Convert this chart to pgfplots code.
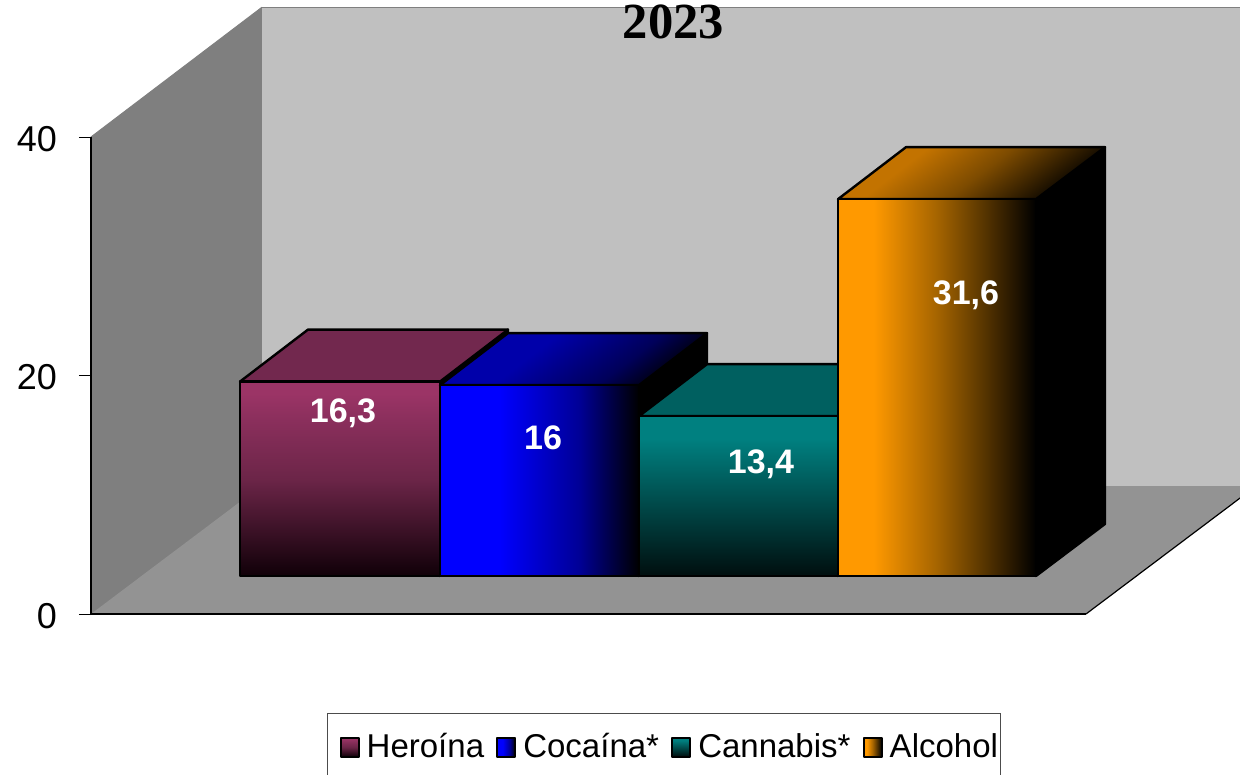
\documentclass[border=0pt]{standalone}
\usepackage{fontspec}
\setmainfont{Liberation Sans}
\newfontfamily\titlefont{Liberation Serif}
\usepackage{pgfplots}
\pgfplotsset{compat=1.18}

\definecolor{wallL}{HTML}{7F7F7F}
\definecolor{wallB}{HTML}{C0C0C0}
\definecolor{floorC}{HTML}{939393}
\definecolor{her1}{HTML}{9B3466}
\definecolor{her2}{HTML}{8A2F5C}
\definecolor{her3}{HTML}{6C2548}
\definecolor{her4}{HTML}{100008}
\definecolor{herTop}{HTML}{72284E}
\definecolor{coc1}{HTML}{0000FF}
\definecolor{coc2}{HTML}{000096}
\definecolor{cocT1}{HTML}{0000AA}
\definecolor{cocT2}{HTML}{00005A}
\definecolor{can1}{HTML}{008080}
\definecolor{can2}{HTML}{005050}
\definecolor{can3}{HTML}{000E0E}
\definecolor{canTop}{HTML}{006060}
\definecolor{alc1}{HTML}{FF9900}
\definecolor{alc2}{HTML}{A56400}
\definecolor{alcT1}{HTML}{C37300}
\definecolor{alcT2}{HTML}{7D4B00}

% shadings: the middle 25bp..75bp span the shape
\pgfdeclareverticalshading{heroinaS}{100bp}{color(0bp)=(her4); color(25bp)=(her4); color(50bp)=(her3); color(65bp)=(her2); color(72bp)=(her1); color(100bp)=(her1)}
\pgfdeclareverticalshading{cannabisS}{100bp}{color(0bp)=(can3); color(25bp)=(can3); color(50bp)=(can2); color(68bp)=(can1); color(100bp)=(can1)}
\pgfdeclarehorizontalshading{cocainaS}{100bp}{color(0bp)=(coc1); color(40bp)=(coc1); color(60bp)=(coc2); color(75bp)=(black); color(100bp)=(black)}
\pgfdeclarehorizontalshading{alcoholS}{100bp}{color(0bp)=(alc1); color(34bp)=(alc1); color(50bp)=(alc2); color(75bp)=(black); color(100bp)=(black)}
\pgfdeclarehorizontalshading{cocainaTop}{100bp}{color(0bp)=(cocT1); color(40bp)=(cocT1); color(62bp)=(cocT2); color(75bp)=(black); color(100bp)=(black)}
\pgfdeclarehorizontalshading{alcoholTop}{100bp}{color(0bp)=(alcT1); color(34bp)=(alcT1); color(52bp)=(alcT2); color(75bp)=(black); color(100bp)=(black)}

\begin{document}
\begin{tikzpicture}
% page = 1240x775 reference pixels at 0.5pt each, axis box starts at pixel (91,614)
\useasboundingbox (-45.5pt,-80.5pt) rectangle (574.5pt,307pt);
\clip (-45.5pt,-80.5pt) rectangle (574.5pt,307pt);
\begin{axis}[
    scale only axis,
    width=497.5pt,
    height=238.5pt,
    xmin=91, xmax=1086,
    ymin=0, ymax=40,
    clip=false,
    axis on top,
    axis x line=bottom,
    axis y line=left,
    axis line style={-, line width=1pt, black},
    xtick=\empty,
    ytick={0,20,40},
    tick align=outside,
    major tick length=6pt,
    tick style={black, line width=0.5pt},
    ticklabel style={font=\fontsize{18}{20}\selectfont},
    yticklabel style={xshift=-7.5pt, yshift=-1pt},
    /pgf/number format/assume math mode=true,
    bar/.style={draw=black, line width=1.2pt, line join=round, y filter/.expression={y+3.19}},
    legend columns=4,
    legend cell align=left,
    legend image code/.code={\path (-6pt,0pt); \draw[#1, line width=1pt] (0pt,-4.75pt) rectangle (9pt,4.75pt);},
    legend style={
        at={(0.2372,-0.2075)}, anchor=north west,
        draw=black!70, line width=0.5pt,
        font=\fontsize{16.5}{19}\selectfont,
        inner xsep=0pt, inner ysep=8pt,
        nodes={inner xsep=1.5pt},
        /tikz/every odd column/.append style={column sep=2pt},
        /tikz/every even column/.append style={column sep=-1.5pt},
    },
]

% walls and floor
\addplot[forget plot, fill=wallB, draw=wallL, line width=0.5pt] coordinates {(261,50.82) (1256,50.82) (1256,10.73) (261,10.73)} -- cycle;
\addplot[forget plot, fill=wallL, draw=wallL, line width=0.5pt] coordinates {(91,40) (261,50.82) (261,10.73) (91,0)} -- cycle;
\addplot[forget plot, fill=floorC, draw=none] coordinates {(91,0) (261,10.73) (1256,10.73) (1086,0)} -- cycle;
\addplot[forget plot, draw=black, line width=0.6pt] coordinates {(1086,0) (1256,10.73)};

% Heroina
\addplot[forget plot, bar, fill=black] coordinates {(440,16.3) (508,20.66) (508,4.36) (440,0)} -- cycle;
\addplot[forget plot, bar, fill=herTop] coordinates {(240,16.3) (440,16.3) (508,20.66) (308,20.66)} -- cycle;
\addplot[bar, shade, shading=heroinaS] coordinates {(240,0) (240,16.3) (440,16.3) (440,0)} -- cycle;
\addlegendentry{Heroína}

% Cocaina
\addplot[forget plot, bar, fill=black] coordinates {(639,16) (707,20.36) (707,4.36) (639,0)} -- cycle;
\addplot[forget plot, bar, shade, shading=cocainaTop, shading angle=-52.6] coordinates {(440,16) (639,16) (707,20.36) (508,20.36)} -- cycle;
\addplot[bar, shade, shading=cocainaS] coordinates {(440,0) (440,16) (639,16) (639,0)} -- cycle;
\addlegendentry{Cocaína*}

% Cannabis
\addplot[forget plot, bar, fill=black] coordinates {(838,13.4) (906,17.76) (906,4.36) (838,0)} -- cycle;
\addplot[forget plot, bar, fill=canTop] coordinates {(639,13.4) (838,13.4) (906,17.76) (707,17.76)} -- cycle;
\addplot[bar, shade, shading=cannabisS] coordinates {(639,0) (639,13.4) (838,13.4) (838,0)} -- cycle;
\addlegendentry{Cannabis*}

% Alcohol
\addplot[forget plot, bar, fill=black] coordinates {(1036,31.6) (1105,35.96) (1105,4.36) (1036,0)} -- cycle;
\addplot[forget plot, bar, shade, shading=alcoholTop, shading angle=-52.6] coordinates {(838,31.6) (1036,31.6) (1105,35.96) (906,35.96)} -- cycle;
\addplot[bar, shade, shading=alcoholS] coordinates {(838,0) (838,31.6) (1036,31.6) (1036,0)} -- cycle;
\addlegendentry{Alcohol}

% value labels
\begin{scope}[every node/.style={text=white, font=\fontsize{17}{20}\bfseries\selectfont}]
\node at (axis cs:343,16.85) {16,3};
\node at (axis cs:543,14.76) {16};
\node at (axis cs:761,12.58) {13,4};
\node at (axis cs:966,26.75) {31,6};
\end{scope}

\node[font=\titlefont\fontsize{25.3}{28}\bfseries\selectfont] at (axis cs:673.5,49.64) {2023};

\end{axis}
\end{tikzpicture}
\end{document}
